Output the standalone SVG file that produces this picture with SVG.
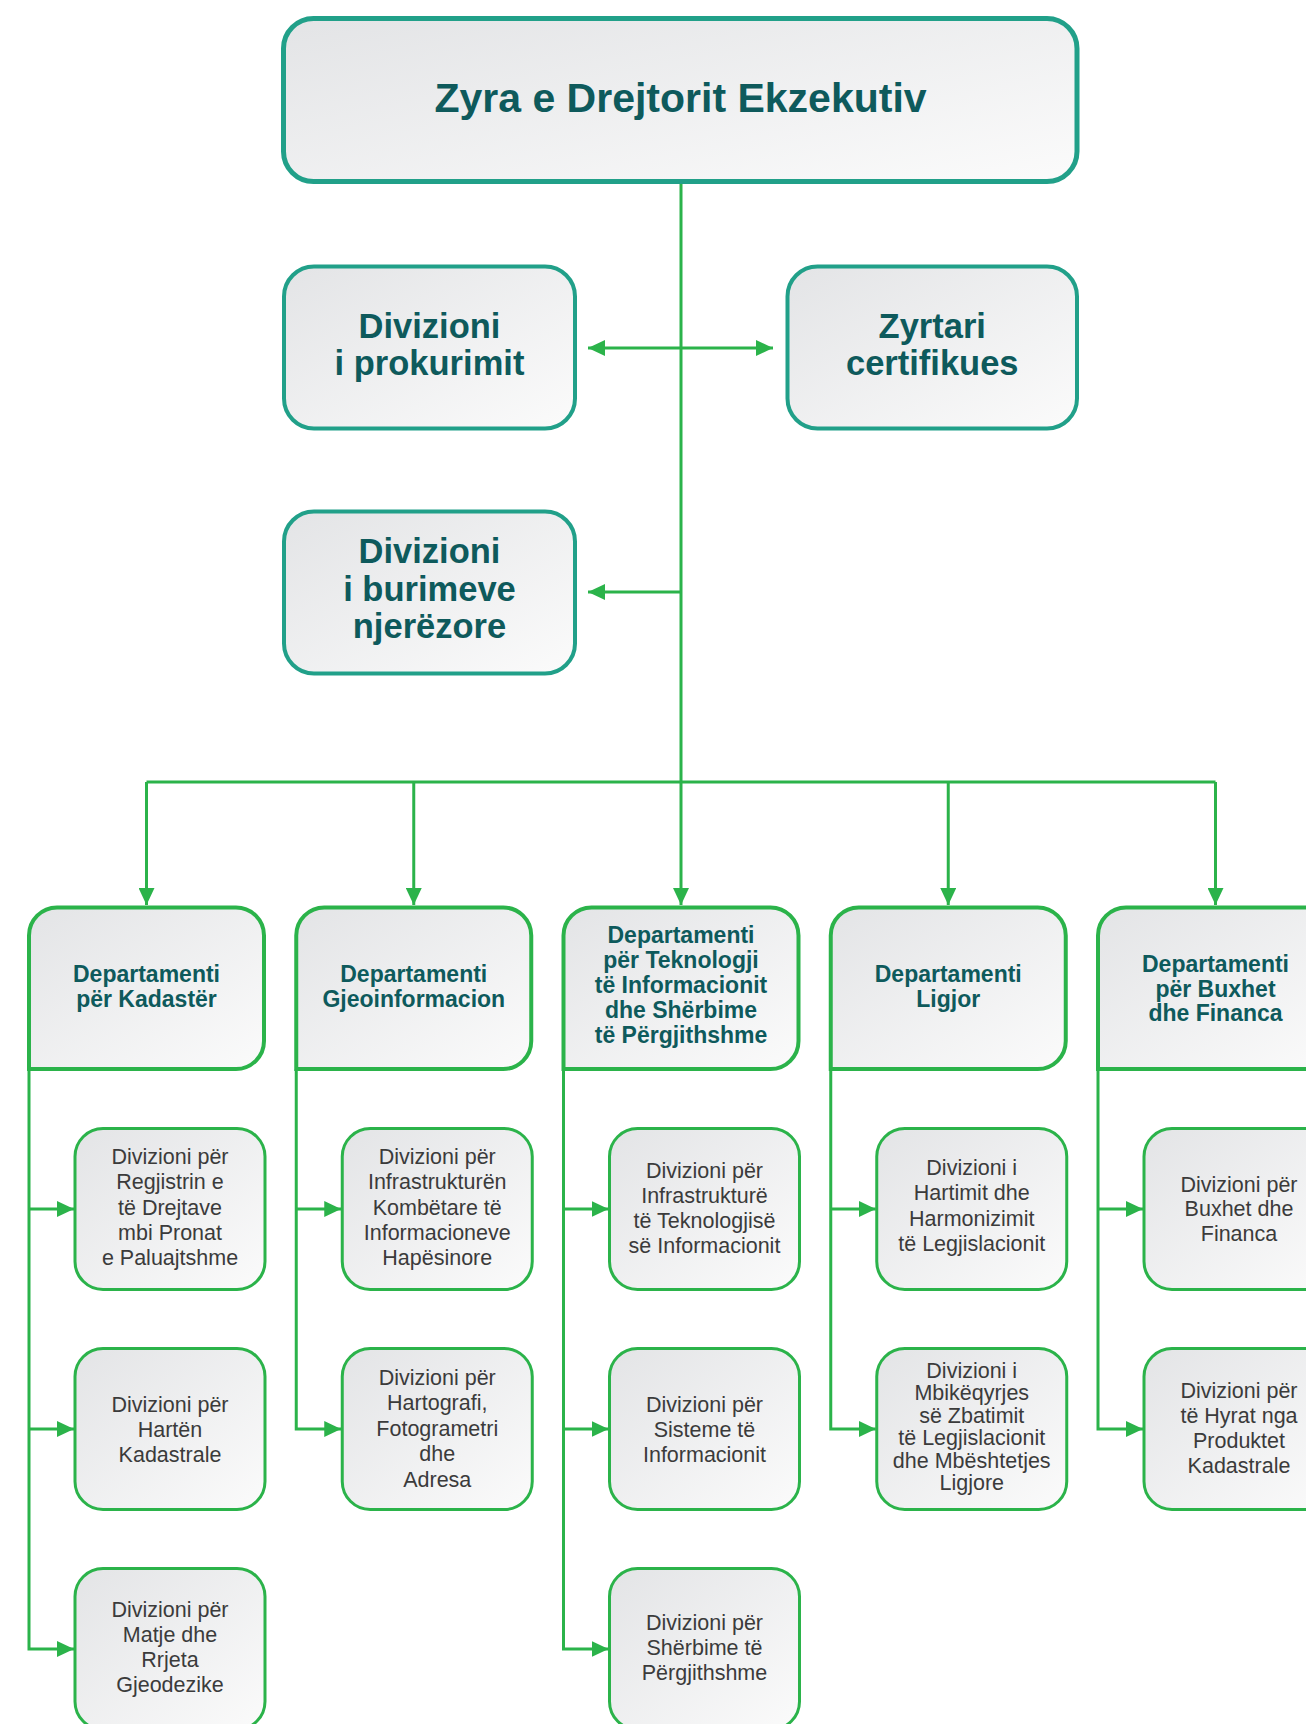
<svg xmlns="http://www.w3.org/2000/svg" width="1306" height="1724" viewBox="0 0 1306 1724">
<defs>
<linearGradient id="g" x1="0" y1="0" x2="1" y2="1">
<stop offset="0" stop-color="#e3e4e6"/>
<stop offset="1" stop-color="#fbfbfb"/>
</linearGradient>
<marker id="ah" markerUnits="userSpaceOnUse" markerWidth="17" markerHeight="16" refX="17" refY="8" orient="auto">
<path d="M0,0 L17,8 L0,16 Z" fill="#2bb34a"/>
</marker>
<style>
.top{fill:url(#g);stroke:#21a089;stroke-width:5}
.sec{fill:url(#g);stroke:#21a089;stroke-width:4}
.dept{fill:url(#g);stroke:#2bb34a;stroke-width:4}
.div{fill:url(#g);stroke:#2bb34a;stroke-width:3}
.conn{fill:none;stroke:#2bb34a;stroke-width:3}
.arr{marker-end:url(#ah)}
.t1{font-family:"Liberation Sans",Arial,sans-serif;font-weight:bold;fill:#0e5a5c;text-anchor:middle}
.tt{font-size:41px}
.ts{font-size:34.5px}
.td{font-size:23px}
.tc{font-family:"Liberation Sans",Arial,sans-serif;font-size:21.5px;fill:#3b3b3b;text-anchor:middle}
</style>
</defs>
<g id="connectors">
<path class="conn" d="M681,182 V782"/>
<path class="conn" d="M146.5,782 H1215.5"/>
<path class="conn arr" d="M681,348 H588"/>
<path class="conn arr" d="M681,348 H773"/>
<path class="conn arr" d="M681,592 H588"/>
<path class="conn arr" d="M146.5,782 V905"/>
<path class="conn arr" d="M413.75,782 V905"/>
<path class="conn arr" d="M681,782 V905"/>
<path class="conn arr" d="M948.25,782 V905"/>
<path class="conn arr" d="M1215.5,782 V905"/>
<path class="conn arr" d="M29,1069 V1649 H74"/>
<path class="conn arr" d="M29,1209 H74"/>
<path class="conn arr" d="M29,1429 H74"/>
<path class="conn arr" d="M296.25,1069 V1429 H341.25"/>
<path class="conn arr" d="M296.25,1209 H341.25"/>
<path class="conn arr" d="M563.5,1069 V1649 H608.5"/>
<path class="conn arr" d="M563.5,1209 H608.5"/>
<path class="conn arr" d="M563.5,1429 H608.5"/>
<path class="conn arr" d="M830.75,1069 V1429 H875.75"/>
<path class="conn arr" d="M830.75,1209 H875.75"/>
<path class="conn arr" d="M1098,1069 V1429 H1143"/>
<path class="conn arr" d="M1098,1209 H1143"/>
</g>
<g id="n-top">
<rect class="top" x="283.5" y="18.5" width="793.5" height="163" rx="30"/>
<text class="t1 tt" x="680.5" y="112">Zyra e Drejtorit Ekzekutiv</text>
</g>
<g id="n-prokurim">
<rect class="sec" x="284" y="266.5" width="291" height="162" rx="30"/>
<text class="t1 ts"><tspan x="429.5" y="338">Divizioni</tspan><tspan x="429.5" y="375">i prokurimit</tspan></text>
</g>
<g id="n-zyrtari">
<rect class="sec" x="787.5" y="266.5" width="289.5" height="162" rx="30"/>
<text class="t1 ts"><tspan x="932.25" y="338">Zyrtari</tspan><tspan x="932.25" y="375">certifikues</tspan></text>
</g>
<g id="n-burime">
<rect class="sec" x="284" y="511.5" width="291" height="162" rx="30"/>
<text class="t1 ts"><tspan x="429.5" y="563">Divizioni</tspan><tspan x="429.5" y="601">i burimeve</tspan><tspan x="429.5" y="638">njerëzore</tspan></text>
</g>
<g id="d-kadaster">
<path class="dept" d="M29,935.5 A28,28 0 0 1 57,907.5 H236 A28,28 0 0 1 264,935.5 V1041 A28,28 0 0 1 236,1069 H29 Z"/>
<text class="t1 td"><tspan x="146.5" y="982">Departamenti</tspan><tspan x="146.5" y="1007">për Kadastër</tspan></text>
</g>
<g id="d-gjeo">
<path class="dept" d="M296.25,935.5 A28,28 0 0 1 324.25,907.5 H503.25 A28,28 0 0 1 531.25,935.5 V1041 A28,28 0 0 1 503.25,1069 H296.25 Z"/>
<text class="t1 td"><tspan x="413.75" y="982">Departamenti</tspan><tspan x="413.75" y="1007">Gjeoinformacion</tspan></text>
</g>
<g id="d-tik">
<path class="dept" d="M563.5,935.5 A28,28 0 0 1 591.5,907.5 H770.5 A28,28 0 0 1 798.5,935.5 V1041 A28,28 0 0 1 770.5,1069 H563.5 Z"/>
<text class="t1 td"><tspan x="681" y="943">Departamenti</tspan><tspan x="681" y="968">për Teknologji</tspan><tspan x="681" y="993">të Informacionit</tspan><tspan x="681" y="1018">dhe Shërbime</tspan><tspan x="681" y="1043">të Përgjithshme</tspan></text>
</g>
<g id="d-ligjor">
<path class="dept" d="M830.75,935.5 A28,28 0 0 1 858.75,907.5 H1037.75 A28,28 0 0 1 1065.75,935.5 V1041 A28,28 0 0 1 1037.75,1069 H830.75 Z"/>
<text class="t1 td"><tspan x="948.25" y="982">Departamenti</tspan><tspan x="948.25" y="1007">Ligjor</tspan></text>
</g>
<g id="d-buxhet">
<path class="dept" d="M1098,935.5 A28,28 0 0 1 1126,907.5 H1305 A28,28 0 0 1 1333,935.5 V1041 A28,28 0 0 1 1305,1069 H1098 Z"/>
<text class="t1 td"><tspan x="1215.5" y="972">Departamenti</tspan><tspan x="1215.5" y="996.5">për Buxhet</tspan><tspan x="1215.5" y="1021">dhe Financa</tspan></text>
</g>
<g id="c1-1">
<rect class="div" x="75" y="1128.5" width="190" height="161" rx="28"/>
<text class="tc"><tspan x="170" y="1164">Divizioni për</tspan><tspan x="170" y="1189.3">Regjistrin e</tspan><tspan x="170" y="1214.6">të Drejtave</tspan><tspan x="170" y="1240">mbi Pronat</tspan><tspan x="170" y="1265.3">e Paluajtshme</tspan></text>
</g>
<g id="c1-2">
<rect class="div" x="75" y="1348.5" width="190" height="161" rx="28"/>
<text class="tc"><tspan x="170" y="1411.7">Divizioni për</tspan><tspan x="170" y="1436.7">Hartën</tspan><tspan x="170" y="1461.7">Kadastrale</tspan></text>
</g>
<g id="c1-3">
<rect class="div" x="75" y="1568.5" width="190" height="161" rx="28"/>
<text class="tc"><tspan x="170" y="1617">Divizioni për</tspan><tspan x="170" y="1642">Matje dhe</tspan><tspan x="170" y="1667">Rrjeta</tspan><tspan x="170" y="1692">Gjeodezike</tspan></text>
</g>
<g id="c2-1">
<rect class="div" x="342.25" y="1128.5" width="190" height="161" rx="28"/>
<text class="tc"><tspan x="437.25" y="1164">Divizioni për</tspan><tspan x="437.25" y="1189.3">Infrastrukturën</tspan><tspan x="437.25" y="1214.6">Kombëtare të</tspan><tspan x="437.25" y="1240">Informacioneve</tspan><tspan x="437.25" y="1265.3">Hapësinore</tspan></text>
</g>
<g id="c2-2">
<rect class="div" x="342.25" y="1348.5" width="190" height="161" rx="28"/>
<text class="tc"><tspan x="437.25" y="1385">Divizioni për</tspan><tspan x="437.25" y="1410.4">Hartografi,</tspan><tspan x="437.25" y="1435.8">Fotogrametri</tspan><tspan x="437.25" y="1461.2">dhe</tspan><tspan x="437.25" y="1486.6">Adresa</tspan></text>
</g>
<g id="c3-1">
<rect class="div" x="609.5" y="1128.5" width="190" height="161" rx="28"/>
<text class="tc"><tspan x="704.5" y="1178">Divizioni për</tspan><tspan x="704.5" y="1203">Infrastrukturë</tspan><tspan x="704.5" y="1228">të Teknologjisë</tspan><tspan x="704.5" y="1253">së Informacionit</tspan></text>
</g>
<g id="c3-2">
<rect class="div" x="609.5" y="1348.5" width="190" height="161" rx="28"/>
<text class="tc"><tspan x="704.5" y="1411.7">Divizioni për</tspan><tspan x="704.5" y="1436.7">Sisteme të</tspan><tspan x="704.5" y="1461.7">Informacionit</tspan></text>
</g>
<g id="c3-3">
<rect class="div" x="609.5" y="1568.5" width="190" height="161" rx="28"/>
<text class="tc"><tspan x="704.5" y="1630">Divizioni për</tspan><tspan x="704.5" y="1655">Shërbime të</tspan><tspan x="704.5" y="1680">Përgjithshme</tspan></text>
</g>
<g id="c4-1">
<rect class="div" x="876.75" y="1128.5" width="190" height="161" rx="28"/>
<text class="tc"><tspan x="971.75" y="1175">Divizioni i</tspan><tspan x="971.75" y="1200.3">Hartimit dhe</tspan><tspan x="971.75" y="1225.6">Harmonizimit</tspan><tspan x="971.75" y="1251">të Legjislacionit</tspan></text>
</g>
<g id="c4-2">
<rect class="div" x="876.75" y="1348.5" width="190" height="161" rx="28"/>
<text class="tc"><tspan x="971.75" y="1378">Divizioni i</tspan><tspan x="971.75" y="1400.4">Mbikëqyrjes</tspan><tspan x="971.75" y="1422.8">së Zbatimit</tspan><tspan x="971.75" y="1445.2">të Legjislacionit</tspan><tspan x="971.75" y="1467.6">dhe Mbështetjes</tspan><tspan x="971.75" y="1490">Ligjore</tspan></text>
</g>
<g id="c5-1">
<rect class="div" x="1144" y="1128.5" width="190" height="161" rx="28"/>
<text class="tc"><tspan x="1239" y="1191.7">Divizioni për</tspan><tspan x="1239" y="1216.4">Buxhet dhe</tspan><tspan x="1239" y="1241">Financa</tspan></text>
</g>
<g id="c5-2">
<rect class="div" x="1144" y="1348.5" width="190" height="161" rx="28"/>
<text class="tc"><tspan x="1239" y="1398">Divizioni për</tspan><tspan x="1239" y="1423">të Hyrat nga</tspan><tspan x="1239" y="1448">Produktet</tspan><tspan x="1239" y="1473">Kadastrale</tspan></text>
</g>
</svg>
